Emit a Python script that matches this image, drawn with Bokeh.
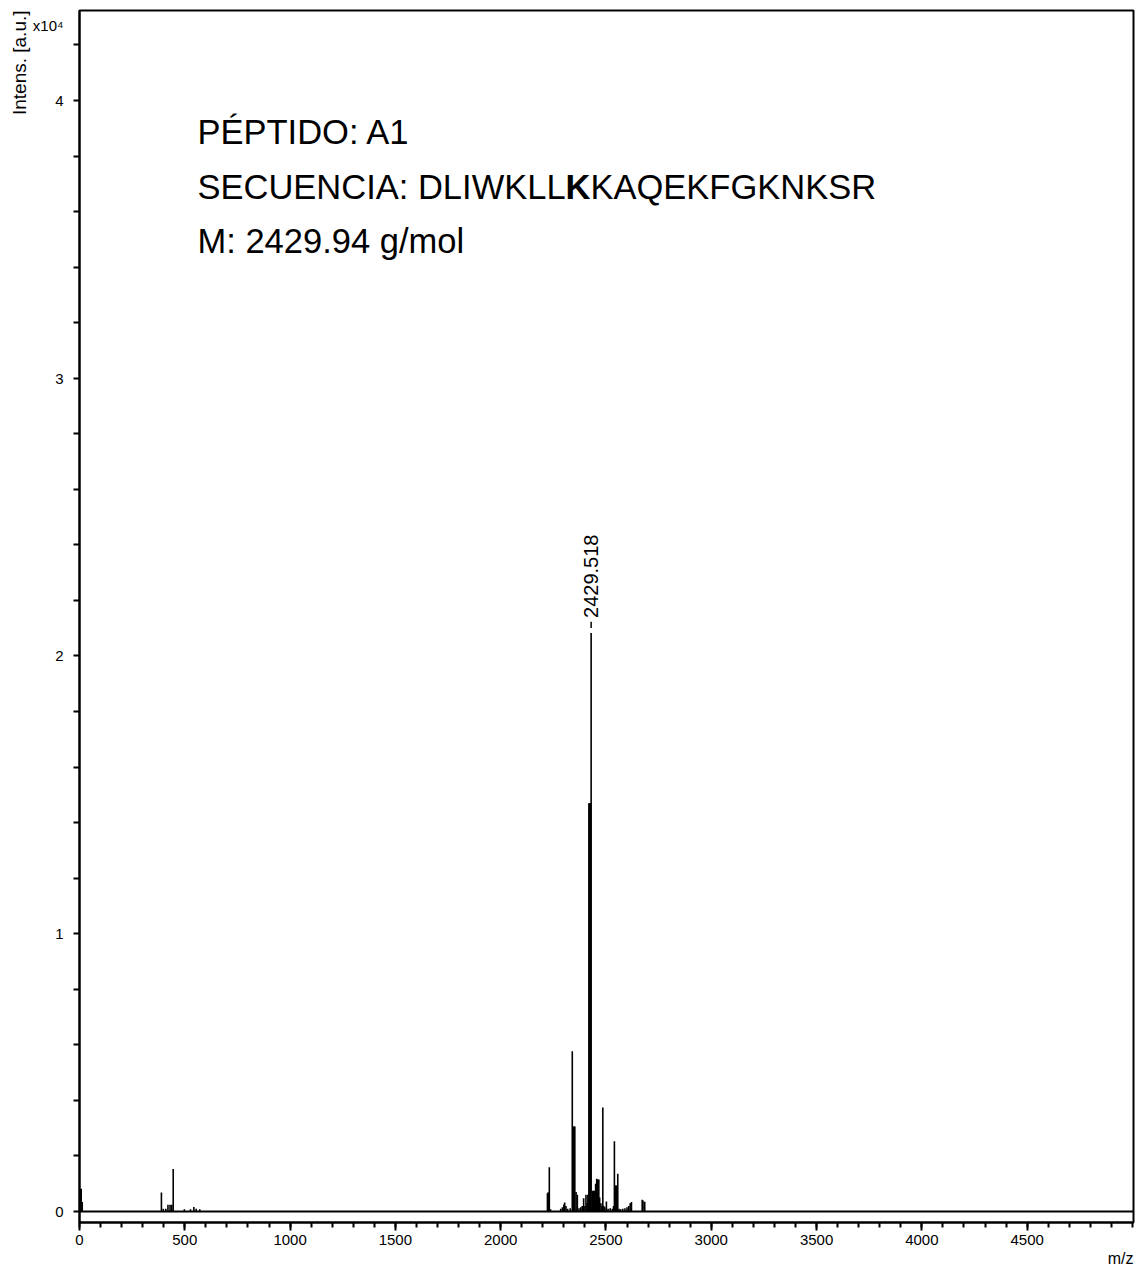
import math
from bokeh.plotting import figure
from bokeh.models import Range1d, Label, Span, FixedTicker, Title
from bokeh.embed import file_html
from bokeh.resources import INLINE

# ---- data: MALDI-TOF peaks (m/z, intensity in units of 10^4 a.u.) ----
peak_mz = [3, 8, 13, 389, 398, 410, 420, 430, 438, 445, 498, 527, 543, 554, 571,
           2222, 2226, 2231, 2237, 2285, 2293, 2300, 2304, 2310, 2318,
           2330, 2340, 2344, 2348, 2352, 2358, 2364, 2372, 2380, 2387, 2394, 2400, 2405, 2410, 2414,
           2419, 2422, 2425, 2427, 2429.518,
           2437, 2441, 2446, 2451, 2456, 2461, 2466, 2470, 2476, 2481, 2485, 2490, 2495, 2502,
           2510, 2520, 2530, 2536, 2540, 2544, 2548, 2552, 2556, 2562, 2570, 2580, 2590, 2600,
           2608, 2615, 2621, 2672, 2676, 2684]
peak_int = [0.082, 0.082, 0.034, 0.068, 0.010, 0.010, 0.024, 0.024, 0.024, 0.153, 0.008, 0.008, 0.016, 0.010, 0.008,
            0.066, 0.069, 0.159, 0.008, 0.010, 0.015, 0.025, 0.032, 0.020, 0.010,
            0.012, 0.577, 0.306, 0.306, 0.306, 0.070, 0.060, 0.012, 0.015, 0.020, 0.048, 0.020, 0.060, 0.030, 0.060,
            1.470, 1.470, 1.470, 1.470, 2.083,
            0.075, 0.075, 0.075, 0.100, 0.118, 0.115, 0.115, 0.050, 0.030, 0.020, 0.374, 0.020, 0.015, 0.036,
            0.010, 0.012, 0.010, 0.020, 0.253, 0.094, 0.094, 0.094, 0.136, 0.010, 0.008, 0.010, 0.012, 0.015,
            0.020, 0.030, 0.034, 0.042, 0.040, 0.035]

label_mz = 2429.518
label_int = 2.083
label_text = "2429.518"

x_ticks = [0, 500, 1000, 1500, 2000, 2500, 3000, 3500, 4000, 4500]
x_minor = list(range(0, 5001, 100))
y_ticks = [0, 1, 2, 3, 4]
y_minor = [round(i * 0.2, 1) for i in range(22)]
y_unit_pos = 4.27
y_unit_text = "x10⁴"

title_lines = ["PÉPTIDO: A1", "SECUENCIA: DLIWKLL", "K", "KAQEKFGKNKSR", "M: 2429.94 g/mol"]

FONT = "Liberation Sans"

p = figure(width=1142, height=1273, output_backend="svg", toolbar_location=None, title=None,
           x_range=Range1d(0, 5005), y_range=Range1d(-0.0396, 4.324),
           min_border_left=79, min_border_right=9, min_border_top=10, min_border_bottom=51)
p.xgrid.visible = False
p.ygrid.visible = False
p.outline_line_color = "black"
p.outline_line_width = 2
p.background_fill_color = "white"
p.border_fill_color = "white"

for ax in (p.xaxis[0], p.yaxis[0]):
    ax.axis_line_width = 2
    ax.major_tick_line_width = 2
    ax.minor_tick_line_width = 2
    ax.major_tick_in = 0
    ax.minor_tick_in = 0
    ax.major_label_text_font = FONT
    ax.major_label_text_font_size = "15px"
    ax.major_label_text_color = "black"

p.xaxis.ticker = FixedTicker(ticks=x_ticks, minor_ticks=x_minor)
p.xaxis.major_tick_out = 8
p.xaxis.minor_tick_out = 5
p.xaxis.major_label_standoff = 4

p.yaxis.ticker = FixedTicker(ticks=y_ticks + [y_unit_pos], minor_ticks=y_minor)
p.yaxis.major_label_overrides = {y_unit_pos: y_unit_text}
p.yaxis.major_tick_out = 0
p.yaxis.minor_tick_out = 6
p.yaxis.major_label_standoff = 10

# axis captions
p.add_layout(Title(text="Intens. [a.u.]", align="right", text_font=FONT, text_font_size="19px",
                   text_font_style="normal", text_color="black", standoff=0), "left")
p.add_layout(Title(text="m/z", align="right", text_font=FONT, text_font_size="16px",
                   text_font_style="normal", text_color="black", standoff=0), "below")

# baseline
p.add_layout(Span(location=0, dimension="width", line_color="black", line_width=2))

# spectrum sticks
p.segment(x0=peak_mz, y0=[0] * len(peak_mz), x1=peak_mz, y1=peak_int,
          line_color="black", line_width=1.6)

# peak annotation
p.segment(x0=[label_mz], y0=[label_int + 0.018], x1=[label_mz], y1=[label_int + 0.040],
          line_color="black", line_width=1.5)
p.add_layout(Label(x=label_mz, y=label_int, y_offset=15, text=label_text, angle=math.pi / 2,
                   text_align="left", text_baseline="middle", text_font=FONT,
                   text_font_size="20px", text_color="black"))

# text block (screen units, relative to frame)
big = "34.5px"
x0 = 118
w1 = 10.669 * 34.5
wk = 0.722 * 34.5
ys = [1091, 1036, 982]
p.add_layout(Label(x=x0, y=ys[0], x_units="screen", y_units="screen", text=title_lines[0],
                   text_font=FONT, text_font_size=big, text_baseline="alphabetic", text_color="black"))
p.add_layout(Label(x=x0, y=ys[1], x_units="screen", y_units="screen", text=title_lines[1],
                   text_font=FONT, text_font_size=big, text_baseline="alphabetic", text_color="black"))
p.add_layout(Label(x=x0 + w1, y=ys[1], x_units="screen", y_units="screen", text=title_lines[2],
                   text_font=FONT, text_font_size=big, text_font_style="bold", text_baseline="alphabetic",
                   text_color="black"))
p.add_layout(Label(x=x0 + w1 + wk, y=ys[1], x_units="screen", y_units="screen", text=title_lines[3],
                   text_font=FONT, text_font_size=big, text_baseline="alphabetic", text_color="black"))
p.add_layout(Label(x=x0, y=ys[2], x_units="screen", y_units="screen", text=title_lines[4],
                   text_font=FONT, text_font_size=big, text_baseline="alphabetic", text_color="black"))

open("out.html", "w").write(file_html(p, INLINE))
